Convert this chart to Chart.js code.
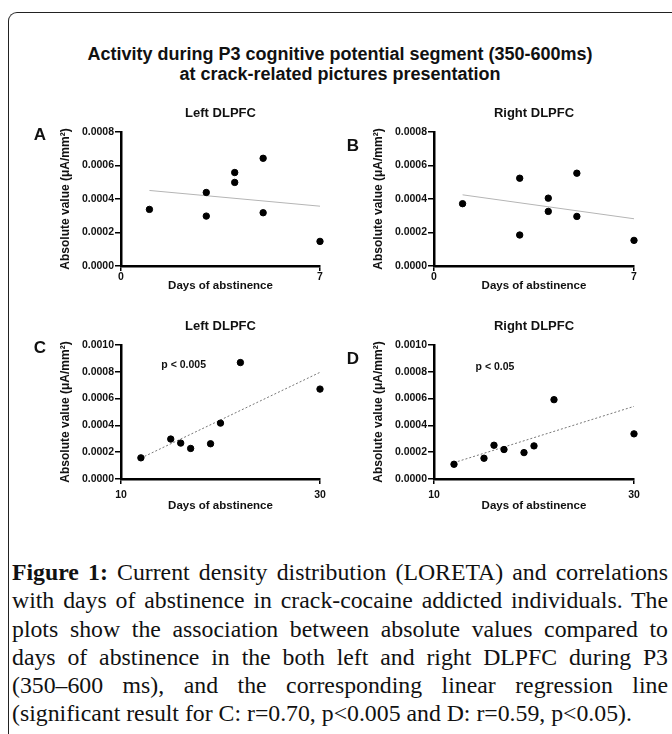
<!DOCTYPE html>
<html>
<head>
<meta charset="utf-8">
<script src="https://cdn.jsdelivr.net/npm/chart.js@4.4.1/dist/chart.umd.min.js"></script>
<style>
  html, body { margin: 0; padding: 0; background: #fff; }
  body { width: 672px; height: 734px; position: relative; overflow: hidden; font-family: "Liberation Sans", Arial, sans-serif; }
  #frame { position: absolute; left: 8px; top: 12px; width: 720px; height: 760px; border-left: 1.5px solid #222; border-top: 1.5px solid #222; border-top-left-radius: 9px; }
  #title { position: absolute; left: 0; width: 680px; top: 44px; text-align: center; font-weight: bold; font-size: 18px; line-height: 20px; color: #111; }
  canvas { position: absolute; }
  #caption { position: absolute; left: 12px; width: 656px; top: 558px; font-family: "Liberation Serif", "Times New Roman", serif; color: #111; }
  #caption div { height: 28.3px; line-height: 28.3px; text-align: justify; text-align-last: justify; }
  #caption div.last { text-align-last: left; }
</style>
</head>
<body>
<div id="frame"></div>
<div id="title">Activity during P3 cognitive potential segment (350-600ms)<br>at crack-related pictures presentation</div>
<canvas id="chartA"></canvas>
<canvas id="chartB"></canvas>
<canvas id="chartC"></canvas>
<canvas id="chartD"></canvas>
<div id="caption"></div>
<script>
// values
const daysA = [1, 3, 3, 4, 4, 5, 5, 7];
const valuesA = [0.000338, 0.000439, 0.000298, 0.000558, 0.000499, 0.000643, 0.000318, 0.000147];
const fitA = [[1, 0.000451], [7, 0.000357]];

const daysB = [1, 3, 3, 4, 4, 5, 5, 7];
const valuesB = [0.000372, 0.000524, 0.000185, 0.000405, 0.000326, 0.000554, 0.000296, 0.000153];
const fitB = [[1, 0.000425], [7, 0.000282]];

const daysC = [12, 15, 16, 17, 19, 20, 22, 30];
const valuesC = [0.000158, 0.000298, 0.000268, 0.000228, 0.000263, 0.000417, 0.000869, 0.000671];
const fitC = [[12, 0.000156], [30, 0.000796]];

const daysD = [12, 15, 16, 17, 19, 20, 22, 30];
const valuesD = [0.00011, 0.000155, 0.000252, 0.00022, 0.000197, 0.000247, 0.000592, 0.000337];
const fitD = [[12, 0.000122], [30, 0.000542]];

const xTicksTop = [0, 7];
const xTicksBottom = [10, 30];
const yTicksTop = [0, 0.0002, 0.0004, 0.0006, 0.0008];
const yTicksBottom = [0, 0.0002, 0.0004, 0.0006, 0.0008, 0.0010];

const captionLines = [
  'Current density distribution (LORETA) and correlations',
  'with days of abstinence in crack-cocaine addicted individuals. The',
  'plots show the association between absolute values compared to',
  'days of abstinence in the both left and right DLPFC during P3',
  '(350\u2013600 ms), and the corresponding linear regression line',
  '(significant result for C: r=0.70, p<0.005 and D: r=0.59, p<0.05).',
];

const sans = '"Liberation Sans", Arial, sans-serif';
const ink = '#111';

const panelText = {
  id: 'panelText',
  afterDraw(chart, args, opts) {
    const { ctx, chartArea: a } = chart;
    ctx.save();
    ctx.fillStyle = ink;
    ctx.textAlign = 'center';
    ctx.textBaseline = 'middle';
    ctx.font = 'bold 13px ' + sans;
    ctx.fillText(opts.title, (a.left + a.right) / 2, a.top - 19);
    ctx.font = 'bold 17px ' + sans;
    ctx.fillText(opts.letter, a.left - 81, a.top + opts.letterDy);
    if (opts.note) {
      ctx.font = 'bold 10.5px ' + sans;
      ctx.fillText(opts.note, chart.scales.x.getPixelForValue(opts.noteAt[0]),
        chart.scales.y.getPixelForValue(opts.noteAt[1]));
    }
    ctx.restore();
  },
};

function toPoints(xs, ys) {
  return xs.map((x, i) => ({ x: x, y: ys[i] }));
}

function drawPanel(id, p) {
  const canvas = document.getElementById(id);
  const cx = p.left - 121;
  const cy = p.top - 40;
  const w = p.right - cx + 16;
  const h = p.bottom - cy + 36;
  const xTitleH = p.xTitleGap + 6.9;
  canvas.width = w;
  canvas.height = h;
  canvas.style.left = cx + 'px';
  canvas.style.top = cy + 'px';

  new Chart(canvas, {
    type: 'scatter',
    data: {
      datasets: [
        {
          data: toPoints(p.days, p.values),
          backgroundColor: '#000',
          borderColor: '#000',
          pointRadius: 3.2,
          pointHoverRadius: 3.2,
          clip: false,
        },
        {
          data: p.fit.map((d) => ({ x: d[0], y: d[1] })),
          showLine: true,
          pointRadius: 0,
          borderColor: p.fitColor,
          borderWidth: 1,
          borderDash: p.fitDash,
          clip: false,
        },
      ],
    },
    options: {
      responsive: false,
      animation: false,
      devicePixelRatio: 1,
      layout: { padding: { left: 0, top: 40, right: 16, bottom: 36 - xTitleH } },
      plugins: {
        legend: { display: false },
        tooltip: { enabled: false },
        panelText: p.text,
      },
      scales: {
        x: {
          type: 'linear',
          min: p.xTicks[0],
          max: p.xTicks[p.xTicks.length - 1],
          afterBuildTicks: (s) => { s.ticks = p.xTicks.map((v) => ({ value: v })); },
          afterFit: (s) => { s.height = xTitleH; },
          grid: { drawOnChartArea: false, drawTicks: true, tickLength: 5, color: '#000', lineWidth: 1.5 },
          border: { display: true, color: '#000', width: 2.5 },
          ticks: { color: ink, font: { family: sans, size: 10.5, weight: 'bold' }, padding: p.xTickPad, maxRotation: 0, autoSkip: false },
          title: { display: true, text: 'Days of abstinence', color: ink, font: { family: sans, size: 11.5, weight: 'bold' }, padding: 0 },
        },
        y: {
          type: 'linear',
          min: 0,
          max: p.yTicks[p.yTicks.length - 1],
          afterBuildTicks: (s) => { s.ticks = p.yTicks.map((v) => ({ value: v })); },
          afterFit: (s) => { s.width = 121; },
          grid: { drawOnChartArea: false, drawTicks: true, tickLength: 6, color: '#000', lineWidth: 1.5 },
          border: { display: true, color: '#000', width: 2.5 },
          ticks: { color: ink, font: { family: sans, size: 10.5, weight: 'bold' }, padding: 1, callback: (v) => v.toFixed(4) },
          title: { display: true, text: 'Absolute value (\u03bcA/mm\u00b2)', color: ink, font: { family: sans, size: 12, weight: 'bold' }, padding: { top: 58.5, bottom: 0 } },
        },
      },
    },
    plugins: [panelText],
  });
}

drawPanel('chartA', {
  left: 121, right: 320, top: 132, bottom: 266,
  days: daysA, values: valuesA, fit: fitA, fitColor: '#b5b5b5', fitDash: [],
  xTicks: xTicksTop, yTicks: yTicksTop, xTitleGap: 20, xTickPad: 0,
  text: { title: 'Left DLPFC', letter: 'A', letterDy: 3 },
});
drawPanel('chartB', {
  left: 434, right: 634, top: 132, bottom: 266,
  days: daysB, values: valuesB, fit: fitB, fitColor: '#b5b5b5', fitDash: [],
  xTicks: xTicksTop, yTicks: yTicksTop, xTitleGap: 20, xTickPad: 0,
  text: { title: 'Right DLPFC', letter: 'B', letterDy: 14 },
});
drawPanel('chartC', {
  left: 121, right: 320, top: 345, bottom: 479,
  days: daysC, values: valuesC, fit: fitC, fitColor: '#777', fitDash: [2, 2],
  xTicks: xTicksBottom, yTicks: yTicksBottom, xTitleGap: 27, xTickPad: 4.7,
  text: { title: 'Left DLPFC', letter: 'C', letterDy: 3, note: 'p < 0.005', noteAt: [16.3, 0.00085] },
});
drawPanel('chartD', {
  left: 434, right: 634, top: 345, bottom: 479,
  days: daysD, values: valuesD, fit: fitD, fitColor: '#777', fitDash: [2, 2],
  xTicks: xTicksBottom, yTicks: yTicksBottom, xTitleGap: 27, xTickPad: 4.7,
  text: { title: 'Right DLPFC', letter: 'D', letterDy: 14, note: 'p < 0.05', noteAt: [16.1, 0.000835] },
});

// caption, sized so the last (unjustified) line matches the original width
const measure = document.createElement('canvas').getContext('2d');
measure.font = '20px "Liberation Serif"';
let capSize = 20 * 620 / measure.measureText(captionLines[5]).width;
measure.font = 'bold 20px "Liberation Serif"';
const firstW = measure.measureText('Figure 1: ').width;
measure.font = '20px "Liberation Serif"';
captionLines.forEach((line, i) => {
  const lw = (i === 0 ? firstW + measure.measureText(line).width : measure.measureText(line).width) * capSize / 20;
  if (lw > 652) capSize = capSize * 652 / lw;
});
const cap = document.getElementById('caption');
cap.style.fontSize = capSize.toFixed(2) + 'px';
captionLines.forEach((line, i) => {
  const div = document.createElement('div');
  if (i === 0) {
    const b = document.createElement('b');
    b.textContent = 'Figure 1:';
    div.appendChild(b);
    div.appendChild(document.createTextNode(' ' + line));
  } else {
    div.textContent = line;
  }
  if (i === captionLines.length - 1) div.className = 'last';
  cap.appendChild(div);
});
</script>
</body>
</html>
